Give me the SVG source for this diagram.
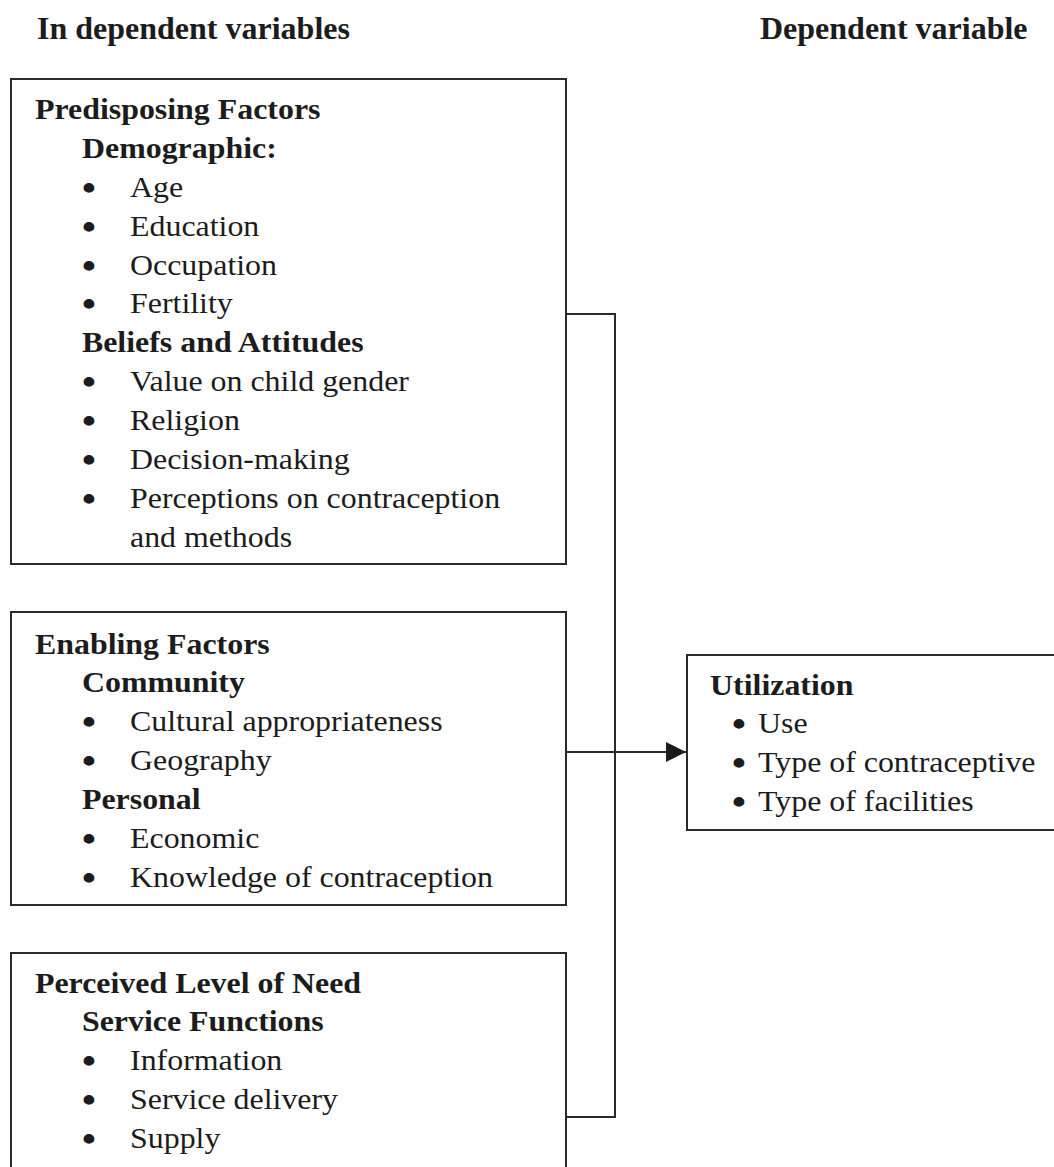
<svg xmlns="http://www.w3.org/2000/svg" width="1054" height="1167" viewBox="0 0 1054 1167">
<style>
.t{font-family:"Liberation Serif","Times New Roman",serif;font-size:29px;fill:#1c1c1c}
.b{font-weight:bold}
.u{font-family:"Liberation Serif","Times New Roman",serif;font-size:36px;font-weight:bold;fill:#1c1c1c}
.h{font-family:"Liberation Serif","Times New Roman",serif;font-size:32px;font-weight:bold;fill:#1c1c1c}
.box{fill:#fff;stroke:#2a2a2a;stroke-width:2}
.ln{fill:none;stroke:#2a2a2a;stroke-width:2}
</style>
<defs>
<marker id="arr" markerWidth="20" markerHeight="20" refX="20" refY="10" orient="auto" markerUnits="userSpaceOnUse">
<path d="M0,0 L20,10 L0,20 Z" fill="#1c1c1c"/>
</marker>
</defs>
<rect width="1054" height="1167" fill="#fff"/>
<g id="headers">
<text class="h" x="37" y="39">In dependent variables</text>
<text class="h" x="760" y="39">Dependent variable</text>
</g>
<g id="connectors">
<path class="ln" d="M566 314 H615 V1117 H566"/>
<path class="ln" d="M566 752 H686" marker-end="url(#arr)"/>
</g>
<g id="predisposing">
<rect class="box" x="11" y="79" width="555" height="485"/>
<g transform="scale(1.1 1)">
<text class="t b" x="31.8" y="119">Predisposing Factors</text>
<text class="t b" x="74.5" y="158">Demographic:</text>
<text class="u" x="74.5" y="199.8">•</text><text class="t" x="118.2" y="196.8">Age</text>
<text class="u" x="74.5" y="238.7">•</text><text class="t" x="118.2" y="235.7">Education</text>
<text class="u" x="74.5" y="277.6">•</text><text class="t" x="118.2" y="274.6">Occupation</text>
<text class="u" x="74.5" y="316.5">•</text><text class="t" x="118.2" y="313.5">Fertility</text>
<text class="t b" x="74.5" y="352.4">Beliefs and Attitudes</text>
<text class="u" x="74.5" y="394.3">•</text><text class="t" x="118.2" y="391.3">Value on child gender</text>
<text class="u" x="74.5" y="433.2">•</text><text class="t" x="118.2" y="430.2">Religion</text>
<text class="u" x="74.5" y="472.1">•</text><text class="t" x="118.2" y="469.1">Decision-making</text>
<text class="u" x="74.5" y="511">•</text><text class="t" x="118.2" y="508">Perceptions on contraception</text>
<text class="t" x="118.2" y="547">and methods</text>
</g>
</g>
<g id="enabling">
<rect class="box" x="11" y="612" width="555" height="293"/>
<g transform="scale(1.1 1)">
<text class="t b" x="31.8" y="654">Enabling Factors</text>
<text class="t b" x="74.5" y="692.5">Community</text>
<text class="u" x="74.5" y="734">•</text><text class="t" x="118.2" y="731">Cultural appropriateness</text>
<text class="u" x="74.5" y="773">•</text><text class="t" x="118.2" y="770">Geography</text>
<text class="t b" x="74.5" y="809">Personal</text>
<text class="u" x="74.5" y="851">•</text><text class="t" x="118.2" y="848">Economic</text>
<text class="u" x="74.5" y="890">•</text><text class="t" x="118.2" y="887">Knowledge of contraception</text>
</g>
</g>
<g id="need">
<rect class="box" x="11" y="953" width="555" height="240"/>
<g transform="scale(1.1 1)">
<text class="t b" x="31.8" y="993">Perceived Level of Need</text>
<text class="t b" x="74.5" y="1031.5">Service Functions</text>
<text class="u" x="74.5" y="1073.5">•</text><text class="t" x="118.2" y="1070.5">Information</text>
<text class="u" x="74.5" y="1112.5">•</text><text class="t" x="118.2" y="1109.5">Service delivery</text>
<text class="u" x="74.5" y="1151.5">•</text><text class="t" x="118.2" y="1148.5">Supply</text>
</g>
</g>
<g id="utilization">
<rect class="box" x="687" y="655" width="390" height="175"/>
<g transform="scale(1.1 1)">
<text class="t b" x="645.5" y="695">Utilization</text>
<text class="u" x="665.5" y="736">•</text><text class="t" x="689.1" y="733">Use</text>
<text class="u" x="665.5" y="775">•</text><text class="t" x="689.1" y="772">Type of contraceptive</text>
<text class="u" x="665.5" y="814">•</text><text class="t" x="689.1" y="811">Type of facilities</text>
</g>
</g>
</svg>
